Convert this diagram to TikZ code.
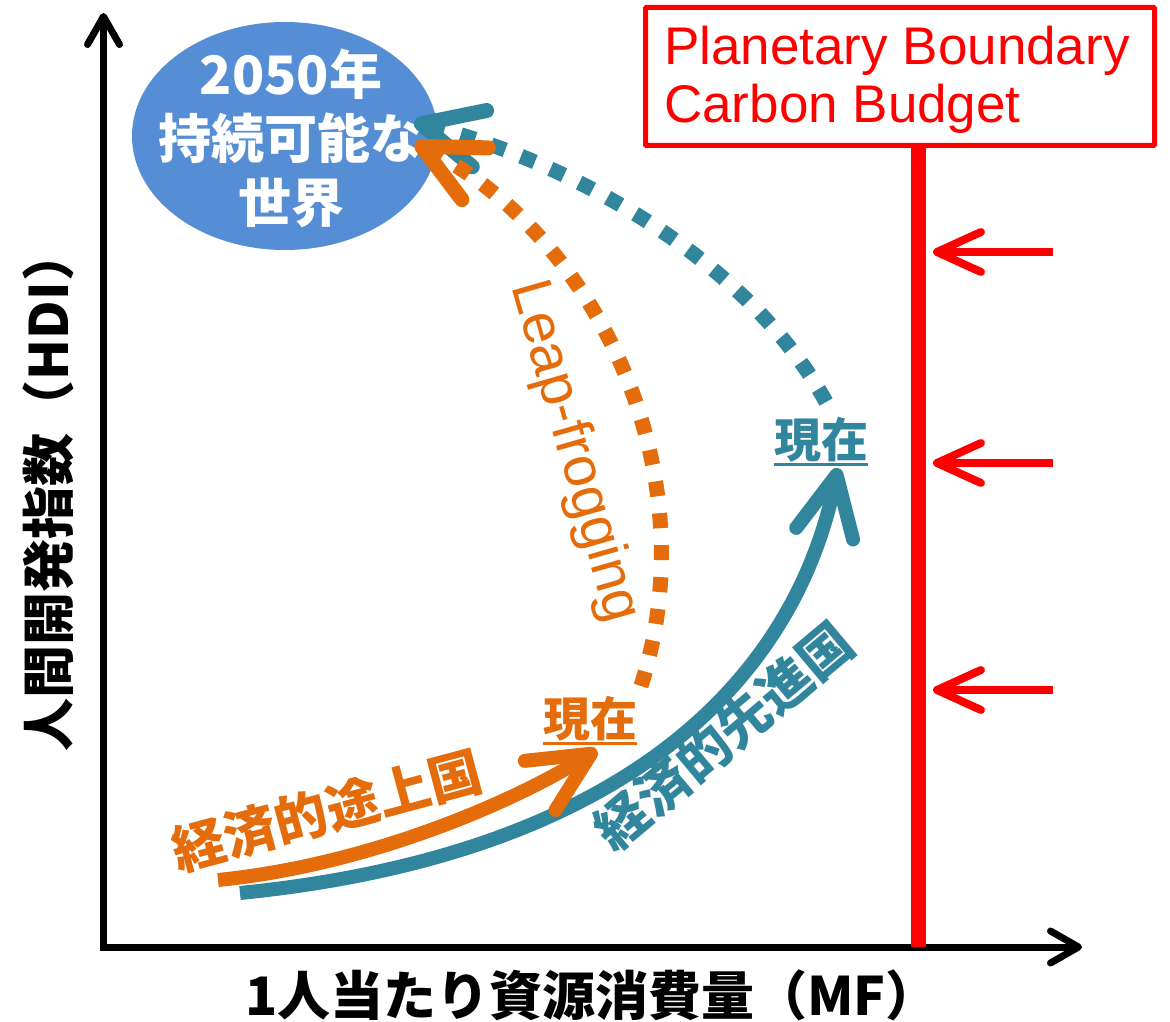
\documentclass[tikz,border=0pt]{standalone}
\usepackage{fontspec}
\newfontfamily\jp{Noto Sans CJK JP}
\newfontfamily\arialf{Liberation Sans}
\usetikzlibrary{arrows.meta,shapes.geometric}
\definecolor{cteal}{RGB}{49,133,156}
\definecolor{corange}{RGB}{228,108,10}
\definecolor{cblue}{RGB}{85,142,213}
\begin{document}
\begin{tikzpicture}[x=1pt,y=-1pt,
  axisline/.style={line width=7pt,black,{Straight Barb[length=28pt,width=32pt,round]}-{Straight Barb[length=28pt,width=32pt,round]}},
  jpbold/.style={font=\jp\bfseries\fontsize{#1}{#1}\selectfont},
  axislabel/.style={jpbold=53,inner sep=0pt},
  redarrow/.style={line width=8pt,red,-{Straight Barb[length=44pt,width=40pt,round]}},
  redtxt/.style={font=\arialf\fontsize{53}{60}\selectfont,text=red,inner sep=0pt,anchor=base west},
  bigtip/.style={-{Straight Barb[length=60pt,width=58pt,round]}},
  dots/.style={line width=15pt,dash pattern=on 15pt off 17pt,bigtip},
  solidarrow/.style={line width=14pt,bigtip},
  genzai/.style={jpbold=47,inner sep=0pt},
  curvelabel/.style={jpbold=53,inner sep=0pt}
]
\useasboundingbox (0,0) rectangle (1170,1022);
\fill[white] (0,0) rectangle (1170,1022);

% axes
\coordinate (o) at (103.5,947);
\coordinate (ytip) at (103.5,13);
\coordinate (xtip) at (1082,947);
\draw[axisline,line join=miter] (ytip) -- (o) -- (xtip);
\node[axislabel,rotate=90] (yl) at (48,490) {人間開発指数（HDI）};
\node[axislabel] (xl) at (592,995) {1人当たり資源消費量（MF）};

% planetary boundary
\node[draw=red,line width=5pt,rounded corners=1pt,minimum width=509pt,minimum height=138pt,inner sep=0pt] (pb) at (900,76.5) {};
\node[redtxt] (pbt1) at (664,65) {Planetary Boundary};
\node[redtxt] (pbt2) at (664,123) {Carbon Budget};
\coordinate (rb) at (918,947);
\draw[red,line width=15pt] (pb.south -| rb) -- (rb);
\coordinate (ra1) at (1053,252); \coordinate (rh1) at (933,252);
\coordinate (ra2) at (1053,463); \coordinate (rh2) at (933,463);
\coordinate (ra3) at (1053,690); \coordinate (rh3) at (933,690);
\draw[redarrow] (ra1) -- (rh1);
\draw[redarrow] (ra2) -- (rh2);
\draw[redarrow] (ra3) -- (rh3);

% goal ellipse
\node[ellipse,fill=cblue,minimum width=306pt,minimum height=228pt,inner sep=0pt] (world) at (285,136) {};
\node[text=white,align=center,inner sep=0pt,font=\jp\bfseries\fontsize{53}{64}\selectfont] (worldtxt) at (291,138) {2050年\\持続可能な\\世界};

% dotted leap paths
\coordinate (tdS) at (826,402);
\coordinate (tdE) at (414,122);
\draw[dots,cteal] (tdS) .. controls (751,265) and (579,164) .. (tdE);
\coordinate (odS) at (641,686);
\coordinate (odE) at (415,143);
\draw[dots,corange] (odS) .. controls (710,470) and (595,235) .. (odE);

% solid growth paths
\coordinate (tsS) at (240,893);
\coordinate (tsE) at (838,468);
\draw[solidarrow,cteal] (tsS) .. controls (620,855) and (794,684) .. (tsE);
\coordinate (osS) at (218,880);
\coordinate (osE) at (597,750);
\draw[solidarrow,corange] (osS) .. controls (368,865) and (512,803) .. (osE);

% labels
\node[curvelabel,text=corange,rotate=15] (dev) at (327,811) {経済的途上国};
\node[curvelabel,text=cteal,rotate=40] (adv) at (724,736) {経済的先進国};
\node[genzai,text=corange] (g1) at (590,719) {現在};
\draw[corange,line width=3pt] ([yshift=-2pt]g1.south west) -- ([yshift=-2pt]g1.south east);
\node[genzai,text=cteal] (g2) at (821,440) {現在};
\draw[cteal,line width=3pt] ([yshift=-2pt]g2.south west) -- ([yshift=-2pt]g2.south east);
\node[font=\arialf\fontsize{57}{60}\selectfont,text=corange,rotate=-74,inner sep=0pt] (leap) at (574,452) {Leap-frogging};
\end{tikzpicture}
\end{document}
